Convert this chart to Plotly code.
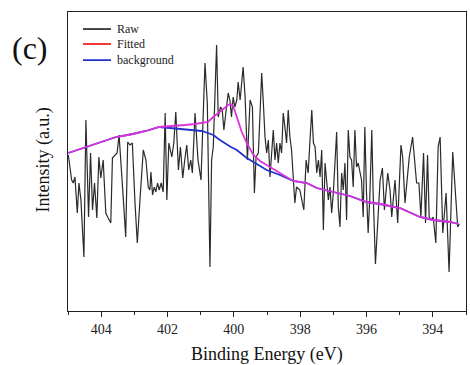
import plotly.graph_objects as go

# ---- data ----
raw_energy = [404.99, 404.89, 404.84, 404.79, 404.72, 404.67, 404.61, 404.52, 404.46, 404.38,
              404.32, 404.26, 404.20, 404.13, 404.07, 404.01, 403.94, 403.86, 403.79, 403.71,
              403.66, 403.58, 403.52, 403.46, 403.39, 403.33, 403.26, 403.20, 403.13, 403.06,
              402.98, 402.91, 402.83, 402.73, 402.65, 402.58, 402.53, 402.50, 402.45, 402.40,
              402.35, 402.30, 402.25, 402.19, 402.13, 402.07, 402.02, 401.96, 401.87, 401.81,
              401.75, 401.67, 401.61, 401.54, 401.48, 401.42, 401.36, 401.30, 401.25, 401.17,
              401.08, 400.99, 400.87, 400.80, 400.72, 400.67, 400.62, 400.52, 400.47, 400.40,
              400.35, 400.30, 400.22, 400.17, 400.12, 400.07, 400.02, 399.97, 399.91, 399.87,
              399.81, 399.72, 399.66, 399.59, 399.51, 399.44, 399.38, 399.33, 399.26, 399.16,
              399.11, 399.06, 399.01, 398.96, 398.91, 398.86, 398.81, 398.76, 398.71, 398.66,
              398.61, 398.56, 398.51, 398.46, 398.41, 398.36, 398.31, 398.26, 398.16, 398.11,
              398.01, 397.95, 397.89, 397.82, 397.76, 397.65, 397.60, 397.55, 397.50, 397.45,
              397.40, 397.35, 397.30, 397.25, 397.20, 397.15, 397.10, 397.05, 397.00, 396.90,
              396.85, 396.80, 396.75, 396.70, 396.65, 396.60, 396.55, 396.50, 396.45, 396.40,
              396.35, 396.30, 396.25, 396.20, 396.15, 396.10, 396.05, 396.00, 395.95, 395.90,
              395.84, 395.80, 395.73, 395.59, 395.52, 395.46, 395.36, 395.29, 395.24, 395.14,
              395.06, 394.96, 394.91, 394.84, 394.76, 394.71, 394.61, 394.54, 394.49, 394.42,
              394.36, 394.28, 394.22, 394.16, 394.11, 394.04, 393.99, 393.91, 393.84, 393.78,
              393.70, 393.60, 393.51, 393.40, 393.33, 393.25, 393.20]
raw_intensity = [156, 131, 128, 134, 98, 128, 111, 54, 191, 94,
                 158, 101, 128, 93, 154, 133, 151, 98, 93, 88,
                 153, 156, 158, 176, 144, 111, 74, 169, 166, 168,
                 108, 68, 111, 161, 151, 124, 121, 139, 116, 124,
                 119, 128, 121, 128, 119, 198, 111, 168, 154, 168,
                 199, 141, 164, 133, 151, 166, 141, 151, 138, 198,
                 151, 131, 248, 208, 44, 151, 164, 266, 194, 204,
                 201, 181, 204, 218, 211, 194, 214, 204, 211, 229,
                 211, 244, 214, 151, 211, 204, 118, 154, 158, 238,
                 208, 174, 158, 171, 134, 164, 181, 151, 168, 148,
                 168, 158, 198, 184, 168, 201, 174, 161, 108, 124,
                 121, 111, 101, 151, 138, 201, 168, 164, 138, 151,
                 134, 161, 81, 148, 131, 111, 124, 98, 118, 179,
                 104, 84, 138, 121, 148, 91, 181, 154, 151, 124,
                 181, 144, 148, 138, 131, 94, 184, 118, 78, 114,
                 181, 118, 47, 131, 143, 101, 138, 121, 94, 131,
                 88, 166, 154, 108, 138, 154, 174, 148, 128, 128,
                 94, 158, 88, 156, 94, 91, 94, 68, 164, 174,
                 78, 118, 39, 159, 121, 84, 87]

fit_energy = [404.99, 404.46, 404.06, 403.55, 403.05, 402.65, 402.25, 401.95, 401.47, 401.17,
              400.97, 400.78, 400.62, 400.42, 400.17, 400.09, 400.02, 399.91, 399.76, 399.61,
              399.41, 399.21, 399.01, 398.61, 398.21, 397.80, 397.50, 397.00, 396.50, 396.00,
              395.59, 394.99, 394.39, 393.99, 393.48, 393.23]
fitted = [158, 164, 169, 174, 177, 180, 184, 184.5, 186, 187,
          188, 189, 194, 199, 206, 207, 205, 194, 179, 168,
          156, 150, 146, 138, 130, 128, 123, 119, 115, 109,
          107, 103, 94, 91, 89, 87]
background = [158, 164, 169, 174, 177, 180, 184, 183, 182, 181,
              180, 178, 176, 171, 165, 164, 163, 161, 157, 153,
              149, 145, 141, 136, 130, 128, 123, 119, 115, 109,
              107, 103, 94, 91, 89, 87]

major_ticks = [404, 402, 400, 398, 396, 394]
legend_names = ["Raw", "Fitted", "background"]
legend_colors = ["#333333", "#ee2222", "#2233cc"]

SERIF = "Liberation Serif"

fig = go.Figure()
fig.add_trace(go.Scatter(x=raw_energy, y=raw_intensity, mode="lines",
                         line=dict(color="#2a2a2a", width=1.2), showlegend=False))
fig.add_trace(go.Scatter(x=fit_energy, y=background, mode="lines",
                         line=dict(color="#2233cc", width=1.8), showlegend=False))
fig.add_trace(go.Scatter(x=fit_energy, y=fitted, mode="lines",
                         line=dict(color="#dd33dd", width=1.8), showlegend=False))

# manual legend
rows_y = [0.943, 0.893, 0.839]
for name, col, yy in zip(legend_names, legend_colors, rows_y):
    fig.add_shape(type="line", xref="paper", yref="paper", x0=0.0377, x1=0.108,
                  y0=yy, y1=yy, line=dict(color=col, width=1.8))
    fig.add_annotation(xref="paper", yref="paper", x=0.118, y=yy, text=name,
                       showarrow=False, xanchor="left", yanchor="middle",
                       font=dict(family=SERIF, size=12, color="#222"))

fig.add_annotation(xref="paper", yref="paper", x=-0.0955, y=0.88, text="(c)",
                   showarrow=False, xanchor="center", yanchor="middle",
                   font=dict(family=SERIF, size=32, color="#111"))
fig.add_annotation(xref="paper", yref="paper", x=-0.0603, y=0.503, text="Intensity (a.u.)",
                   textangle=-90, showarrow=False, xanchor="center", yanchor="middle",
                   font=dict(family=SERIF, size=18, color="#111"))
fig.add_annotation(xref="paper", yref="paper", x=0.5, y=-0.147, text="Binding Energy (eV)",
                   showarrow=False, xanchor="center", yanchor="middle",
                   font=dict(family=SERIF, size=18, color="#111"))

fig.update_xaxes(range=[405, 393], tickvals=major_ticks, ticks="outside", ticklen=5,
                 tickwidth=1.2, tickcolor="#222", showline=True, linecolor="#222",
                 linewidth=1.3, mirror=True, showgrid=False, zeroline=False,
                 tickfont=dict(family=SERIF, size=14, color="#222"),
                 minor=dict(dtick=1, tick0=393, ticks="outside", ticklen=3, tickcolor="#222",
                            tickwidth=1.2, showgrid=False))
fig.update_yaxes(range=[0, 299], showticklabels=False, ticks="", showline=True,
                 linecolor="#222", linewidth=1.3, mirror=True, showgrid=False, zeroline=False)

fig.update_layout(width=470, height=365, margin=dict(l=68, r=4, t=12, b=54),
                  plot_bgcolor="white", paper_bgcolor="white", showlegend=False)

fig.write_html("out.html")
